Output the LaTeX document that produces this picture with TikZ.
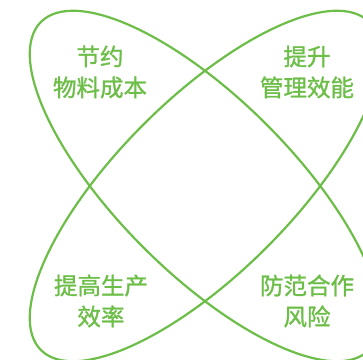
\documentclass[tikz,border=0pt]{standalone}
\usepackage{fontspec}
\newfontfamily\cjk[FakeBold=1.2]{Noto Sans CJK SC}
\definecolor{leaf}{RGB}{108,190,72}
\tikzset{
  petal/.style={draw=leaf, line width=2.2pt},
  lbl/.style={text=leaf, font=\cjk\fontsize{23.5}{31}\selectfont, align=center}
}
\begin{document}
\begin{tikzpicture}[x=1pt,y=1pt]
\useasboundingbox (0,0) rectangle (363,359);
\clip (0,0) rectangle (363,359);
\coordinate (c) at (205,173);
\draw[petal, rotate around={-45:(c)}] (c) ellipse [x radius=232, y radius=87];
\draw[petal, rotate around={45:(c)}] (c) ellipse [x radius=232, y radius=87];
\node[lbl] (tl) at (100,287) {节约\\物料成本};
\node[lbl] (tr) at (307,287) {提升\\管理效能};
\node[lbl] (bl) at (101,58) {提高生产\\效率};
\node[lbl] (br) at (307,58) {防范合作\\风险};
\end{tikzpicture}
\end{document}
